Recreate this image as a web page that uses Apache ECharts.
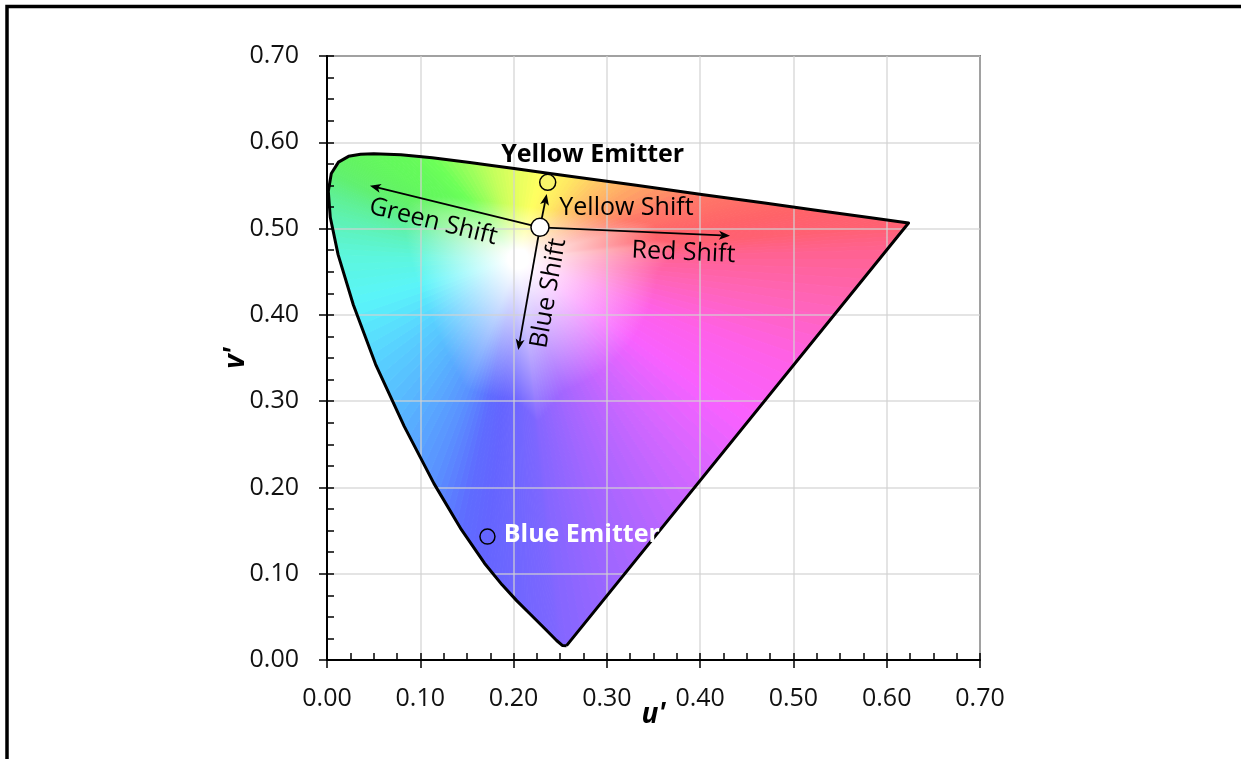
<!DOCTYPE html>
<html>
<head>
<meta charset="utf-8">
<script src="https://cdn.jsdelivr.net/npm/echarts@6/dist/echarts.min.js"></script>
<style>
  html, body { margin: 0; padding: 0; background: #fff; }
  #chart { width: 1241px; height: 759px; }
</style>
</head>
<body>
<div id="chart"></div>
<script>
// CIE 1976 u'v' spectral locus, 380 nm -> 700 nm
const spectralLocus = [
  [0.2568, 0.0166], [0.2522, 0.0169], [0.2461, 0.0226], [0.2347, 0.0350],
  [0.2161, 0.0550], [0.2033, 0.0688], [0.1877, 0.0871], [0.1690, 0.1119],
  [0.1441, 0.1510], [0.1147, 0.2044], [0.0828, 0.2708], [0.0521, 0.3427],
  [0.0282, 0.4117], [0.0119, 0.4698], [0.0035, 0.5131], [0.0014, 0.5432],
  [0.0046, 0.5638], [0.0123, 0.5770], [0.0231, 0.5837], [0.0360, 0.5861],
  [0.0501, 0.5868], [0.0792, 0.5856], [0.1127, 0.5821], [0.1531, 0.5766],
  [0.1766, 0.5732], [0.2026, 0.5694], [0.2312, 0.5651], [0.2623, 0.5604],
  [0.2960, 0.5554], [0.3315, 0.5501], [0.4035, 0.5393], [0.4692, 0.5296],
  [0.5203, 0.5219], [0.5830, 0.5125], [0.6234, 0.5065]
];
// hue anchors on the line of purples, from the red end back towards violet
const purpleLine = [
  [0.60, 0.4752], [0.55, 0.4084], [0.50, 0.3416], [0.45, 0.2748],
  [0.40, 0.2080], [0.35, 0.1412], [0.30, 0.0743]
];
// where the colour field fades to white
const achromatic = [0.205, 0.465];

// measured points
const whitePoint = [0.2283, 0.5014];
const yellowEmitter = [0.2366, 0.5536];
const blueEmitter = [0.172, 0.143];

// shift directions drawn from the white point
const shiftNames = ['Green Shift', 'Yellow Shift', 'Red Shift', 'Blue Shift'];
const shiftTargets = [[0.046, 0.5497], [0.2355, 0.540], [0.432, 0.4917], [0.205, 0.3592]];

// axis range and tick step (both axes)
const axisMin = 0, axisMax = 0.7, axisStep = 0.1;

// ---- styling ----
const locusColors = [
  '#8566ff', '#8466ff', '#7e66ff', '#7a66ff',
  '#7466ff', '#7066ff', '#6a66ff', '#6464ff',
  '#5e6cff', '#5a90ff', '#58b0ff', '#58d0ff',
  '#5af4fa', '#5cf6dc', '#5ef2b4', '#5ff090',
  '#60f070', '#62f266', '#62f460', '#62f65e',
  '#63f85c', '#64fa5a', '#6cff58', '#a0ff5c',
  '#c4ff5c', '#e4ff5e', '#ffff60', '#ffe862',
  '#ffc466', '#ffa866', '#ff7868', '#ff6a68',
  '#ff6268', '#ff6070', '#ff6070'
];
const purpleColors = ['#ff6290', '#ff64b8', '#ff60e8', '#f860ff', '#d466ff', '#b466ff', '#9a66ff'];
const FONT = '"Open Sans", "Noto Sans", sans-serif';
const WHITE_CORE = 10;   // px of pure white around the achromatic point
const SAT_REACH = 140;   // px at which a hue reaches full strength
const shiftLabelLayout = [
  { along: true, t: 0.6, offset: 20 },
  { along: false, dx: 16, dy: -3 },
  { along: true, t: 0.76, offset: 19 },
  { along: true, t: 0.51, offset: 20 }
];

const ring = spectralLocus.concat(purpleLine);
const ringColors = locusColors.concat(purpleColors);

function hexToRgb(h) {
  const n = parseInt(h.slice(1), 16);
  return [(n >> 16) & 255, (n >> 8) & 255, n & 255];
}
function mixColor(a, b, t) {
  const A = hexToRgb(a), B = hexToRgb(b);
  return 'rgb(' + A.map((x, i) => Math.round(x + (B[i] - x) * t)).join(',') + ')';
}

// each boundary segment is shaded as a fan from the achromatic point
const SUB = 6;
function renderWedge(params, api) {
  const n = ring.length;
  const i = params.dataIndex;
  const a = api.coord(ring[i]);
  const b = api.coord(ring[(i + 1) % n]);
  const c = api.coord(achromatic);
  const children = [];
  for (let k = 0; k < SUB; k++) {
    const t0 = k / SUB, t1 = (k + 1) / SUB;
    const p = [a[0] + (b[0] - a[0]) * t0, a[1] + (b[1] - a[1]) * t0];
    const q = [a[0] + (b[0] - a[0]) * t1, a[1] + (b[1] - a[1]) * t1];
    const m = [(p[0] + q[0]) / 2, (p[1] + q[1]) / 2];
    const len = Math.hypot(m[0] - c[0], m[1] - c[1]) || 1;
    const w = Math.min(0.1, WHITE_CORE / len);
    const s = Math.max(w + 0.05, Math.min(0.6, Math.max(0.42, SAT_REACH / len)));
    const col = mixColor(ringColors[i], ringColors[(i + 1) % n], (t0 + t1) / 2);
    const grad = new echarts.graphic.LinearGradient(c[0], c[1], m[0], m[1], [
      { offset: 0, color: '#ffffff' },
      { offset: w, color: '#ffffff' },
      { offset: s, color: col },
      { offset: 1, color: col }
    ], true);
    children.push({
      type: 'polygon',
      shape: { points: [c, p, q] },
      style: { fill: grad, stroke: grad, lineWidth: 1 }
    });
  }
  return { type: 'group', children: children };
}

function renderArrow(params, api) {
  const i = params.dataIndex;
  const p0 = api.coord(whitePoint);
  const p1 = api.coord([api.value(0), api.value(1)]);
  const len = Math.hypot(p1[0] - p0[0], p1[1] - p0[1]);
  const ux = (p1[0] - p0[0]) / len, uy = (p1[1] - p0[1]) / len;
  const nx = -uy, ny = ux;
  const L = 11, W = 4.5;
  const base = [p1[0] - ux * L * 0.75, p1[1] - uy * L * 0.75];
  const head = [
    p1,
    [p1[0] - ux * L + nx * W, p1[1] - uy * L + ny * W],
    base,
    [p1[0] - ux * L - nx * W, p1[1] - uy * L - ny * W]
  ];
  const lay = shiftLabelLayout[i];
  let label;
  if (lay.along) {
    let dx = p1[0] - p0[0], dy = p1[1] - p0[1];
    if (dx < 0) { dx = -dx; dy = -dy; }
    const ax = p0[0] + (p1[0] - p0[0]) * lay.t;
    const ay = p0[1] + (p1[1] - p0[1]) * lay.t;
    label = {
      type: 'text', x: ax, y: ay, rotation: -Math.atan2(dy, dx),
      style: {
        text: shiftNames[i], x: 0, y: lay.offset, align: 'center', verticalAlign: 'middle',
        fontSize: 25, fontFamily: FONT, fill: '#000'
      }
    };
  } else {
    const mx = (p0[0] + p1[0]) / 2, my = (p0[1] + p1[1]) / 2;
    label = {
      type: 'text', x: mx + lay.dx, y: my + lay.dy,
      style: {
        text: shiftNames[i], align: 'left', verticalAlign: 'middle',
        fontSize: 25, fontFamily: FONT, fill: '#000'
      }
    };
  }
  return {
    type: 'group',
    children: [
      { type: 'line', shape: { x1: p0[0], y1: p0[1], x2: base[0], y2: base[1] },
        style: { stroke: '#000', lineWidth: 1.8 } },
      { type: 'polygon', shape: { points: head }, style: { fill: '#000' } },
      label
    ]
  };
}

const labelFmt = v => v.toFixed(2);

const baseAxis = {
  type: 'value', min: axisMin, max: axisMax, interval: axisStep, z: 3,
  axisLine: { show: true, lineStyle: { color: '#000', width: 2 } },
  axisTick: { show: true, inside: true, length: 7, lineStyle: { color: '#000', width: 1.5 } },
  minorTick: { show: true, splitNumber: 4, length: 7, lineStyle: { color: '#000', width: 1.5 } },
  axisLabel: { show: false },
  splitLine: { show: true, lineStyle: { color: 'rgba(210,210,210,0.8)', width: 1.5 } },
  minorSplitLine: { show: false }
};
const labelAxis = {
  type: 'value', min: axisMin, max: axisMax, interval: axisStep, z: 3,
  axisLine: { show: false },
  axisTick: { show: true, inside: false, length: 8, lineStyle: { color: '#000', width: 1.5 } },
  minorTick: { show: false },
  splitLine: { show: false },
  axisLabel: { show: true, formatter: labelFmt, color: '#111', fontSize: 25, fontFamily: FONT },
  nameLocation: 'middle',
  nameMoveOverlap: false,
  nameTextStyle: { color: '#000', fontSize: 28, fontWeight: 'bold', fontStyle: 'italic', fontFamily: FONT }
};

const chart = echarts.init(document.getElementById('chart'), null, { renderer: 'canvas' });
chart.setOption({
  animation: false,
  backgroundColor: '#fff',
  graphic: [{
    type: 'rect', silent: true, z: 100,
    shape: { x: 7, y: 6.5, width: 1400, height: 1000 },
    style: { fill: 'none', stroke: '#000', lineWidth: 3.5 }
  }],
  grid: {
    left: 327, top: 56, width: 653, height: 604,
    show: true, borderColor: '#222', borderWidth: 1.5, backgroundColor: 'transparent',
    outerBoundsMode: 'none'
  },
  xAxis: [
    Object.assign({}, baseAxis, { position: 'bottom' }),
    Object.assign({}, labelAxis, { position: 'bottom', name: "u'", nameGap: 41,
      axisLabel: Object.assign({}, labelAxis.axisLabel, { margin: 26 }) })
  ],
  yAxis: [
    Object.assign({}, baseAxis, { position: 'left' }),
    Object.assign({}, labelAxis, { position: 'left', name: "v'", nameGap: 77, nameRotate: 90,
      axisLabel: Object.assign({}, labelAxis.axisLabel, { margin: 28 }) })
  ],
  series: [
    {
      type: 'custom', name: 'colour field', xAxisIndex: 0, yAxisIndex: 0,
      data: ring, encode: { x: 0, y: 1 }, renderItem: renderWedge, z: 1, silent: true
    },
    {
      type: 'line', name: 'locus', xAxisIndex: 0, yAxisIndex: 0,
      data: spectralLocus.concat([spectralLocus[0]]), symbol: 'none', z: 4, silent: true,
      lineStyle: { color: '#000', width: 3, join: 'round' }
    },
    {
      type: 'custom', name: 'shifts', xAxisIndex: 0, yAxisIndex: 0,
      data: shiftTargets, encode: { x: 0, y: 1 }, renderItem: renderArrow, z: 5, silent: true
    },
    {
      type: 'scatter', name: 'white point', data: [whitePoint], z: 6, silent: true,
      symbol: 'circle', symbolSize: 18,
      itemStyle: { color: '#fff', borderColor: '#000', borderWidth: 1.5, opacity: 1 }
    },
    {
      type: 'scatter', name: 'Yellow Emitter', data: [yellowEmitter], z: 6, silent: true,
      symbol: 'circle', symbolSize: 16,
      itemStyle: { color: '#f8f46a', borderColor: '#000', borderWidth: 1.5, opacity: 1 },
      label: {
        show: true, formatter: 'Yellow Emitter', position: 'top', offset: [45, -1],
        color: '#000', fontSize: 25, fontWeight: 'bold', fontFamily: FONT
      }
    },
    {
      type: 'scatter', name: 'Blue Emitter', data: [blueEmitter], z: 6, silent: true,
      symbol: 'circle', symbolSize: 15,
      itemStyle: { color: 'rgba(0,0,0,0)', borderColor: '#000', borderWidth: 1.5, opacity: 1 },
      label: {
        show: true, formatter: 'Blue Emitter', position: 'right', distance: 8, offset: [0, -2],
        color: '#fff', fontSize: 25, fontWeight: 'bold', fontFamily: FONT
      }
    }
  ]
});
</script>
</body>
</html>
